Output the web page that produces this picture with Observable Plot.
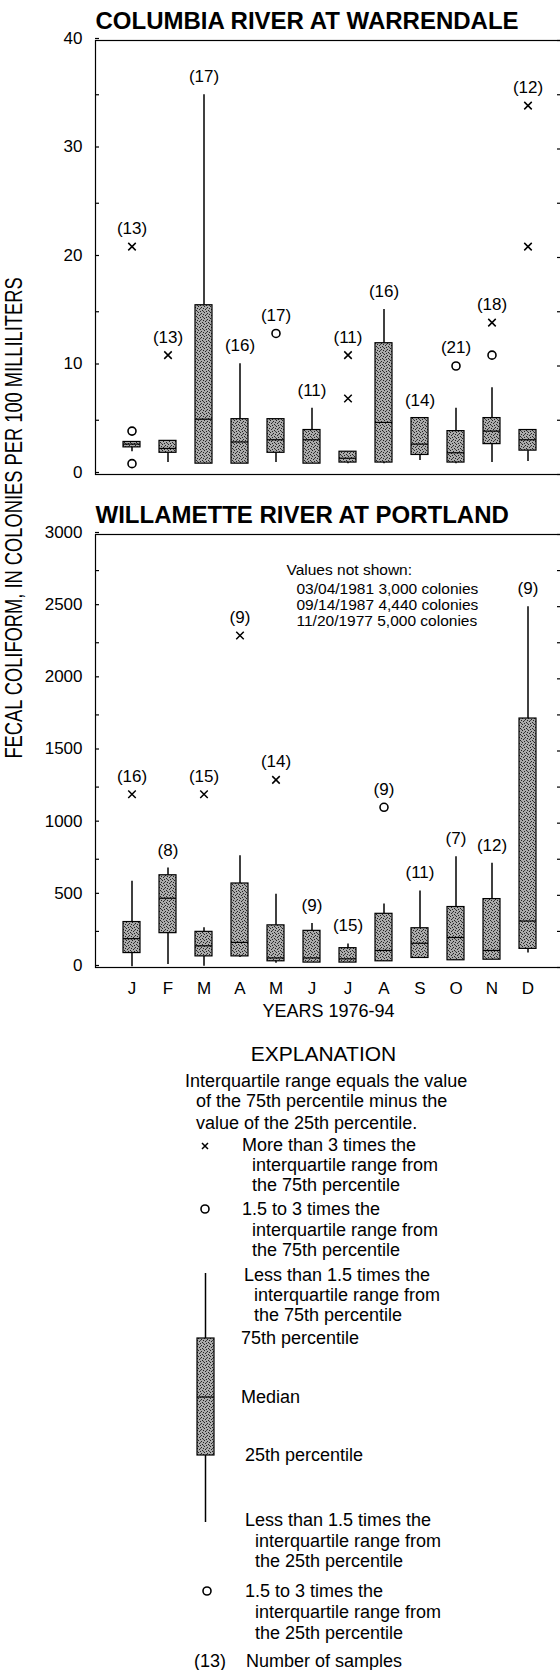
<!DOCTYPE html>
<html><head><meta charset="utf-8">
<script src="https://cdn.jsdelivr.net/npm/d3@7"></script>
<script src="https://cdn.jsdelivr.net/npm/@observablehq/plot@0.6"></script>
<style>
body{margin:0;background:#fff;}
#page{position:relative;width:560px;height:1670px;overflow:hidden;background:#fff;font-family:"Liberation Sans",Arial,sans-serif;color:#000;}
#page > svg{position:absolute;left:0;max-width:none !important;}
</style></head><body>
<div id="page">
<svg width="0" height="0" style="position:absolute;top:0;left:0"><defs>
<pattern id="stip" width="6" height="6" patternUnits="userSpaceOnUse">
<rect width="6" height="6" fill="#ababab"/>
<rect x="0" y="0" width="1" height="1" fill="#222"/>
<rect x="3" y="1" width="1" height="1" fill="#222"/>
<rect x="1" y="3" width="1" height="1" fill="#222"/>
<rect x="4" y="4" width="1" height="1" fill="#222"/>
<rect x="2" y="5" width="1" height="1" fill="#222"/>
<rect x="5" y="2" width="1" height="1" fill="#222"/>
<rect x="2" y="2" width="1" height="1" fill="#444"/>
<rect x="5" y="5" width="1" height="1" fill="#444"/>
</pattern></defs></svg>
</div>
<script>
const months = ["Jan","Feb","Mar","Apr","May","Jun","Jul","Aug","Sep","Oct","Nov","Dec"];
const monthLabels = ["J","F","M","A","M","J","J","A","S","O","N","D"];

// Columbia River at Warrendale
const colTitle = "COLUMBIA RIVER AT WARRENDALE";
const colLow  = [2.1, 1.1, 1.0, 1.0, 1.1, 1.0, 1.0, 1.0, 1.3, 1.0, 1.1, 1.2];
const colQ1   = [2.5, 2.0, 1.0, 1.0, 2.0, 1.0, 1.1, 1.1, 1.8, 1.1, 2.8, 2.2];
const colMed  = [2.8, 2.4, 5.1, 3.0, 3.2, 3.2, 1.5, 4.8, 2.8, 2.0, 4.0, 3.2];
const colQ3   = [3.0, 3.1, 15.6, 5.1, 5.1, 4.1, 2.1, 12.1, 5.2, 4.0, 5.2, 4.1];
const colHigh = [3.0, 3.1, 35.0, 10.2, 5.1, 6.1, 2.1, 15.2, 5.2, 6.1, 8.0, 4.1];
const colN    = [13, 13, 17, 16, 17, 11, 11, 16, 14, 21, 18, 12];
const colFar  = [[0, 21], [1, 11], [6, 11], [6, 7], [10, 14], [11, 34], [11, 21]];
const colNear = [[0, 4], [0, 1], [4, 13], [9, 10], [10, 11]];
const colTicks = [0, 10, 20, 30, 40];
const colMinor = [5, 15, 25, 35];

// Willamette River at Portland
const wilTitle = "WILLAMETTE RIVER AT PORTLAND";
const wilLow  = [5, 20, 9, 70, 30, 34, 34, 43, 66, 50, 54, 100];
const wilQ1   = [100, 238, 77, 77, 43, 34, 34, 43, 66, 50, 54, 129];
const wilMed  = [200, 480, 150, 174, 66, 66, 60, 118, 168, 208, 118, 322];
const wilQ3   = [315, 639, 247, 582, 292, 254, 134, 372, 272, 419, 474, 1725];
const wilHigh = [598, 689, 276, 775, 508, 304, 163, 440, 530, 768, 723, 2500];
const wilN    = [16, 8, 15, 9, 14, 9, 15, 9, 11, 7, 12, 9];
const wilFar  = [[0, 1200], [2, 1200], [3, 2300], [4, 1300]];
const wilNear = [[7, 1110]];
const wilTicks = [0, 500, 1000, 1500, 2000, 2500, 3000];
const wilMinor = [250, 750, 1250, 1750, 2250, 2750];
const notShownHead = "Values not shown:";
const notShownLines = ["03/04/1981 3,000 colonies", "09/14/1987 4,440 colonies", "11/20/1977 5,000 colonies"];

const xLabel = "YEARS 1976-94";
const yLabel = "FECAL COLIFORM, IN COLONIES PER 100 MILLILITERS";

const FONT = "Liberation Sans, Arial, Helvetica, sans-serif";
const page = document.getElementById("page");

function panel(o) {
  const far = o.far.map(([i, v]) => ({m: months[i], v}));
  const near = o.near.map(([i, v]) => ({m: months[i], v}));
  const rows = months.map((m, i) => {
    const pts = far.concat(near).filter(d => d.m === m).map(d => d.v);
    return {m, low: o.low[i], q1: o.q1[i], med: o.med[i], q3: o.q3[i], high: o.high[i], n: o.n[i],
            top: Math.max(o.high[i], o.q3[i], ...pts)};
  });
  const marks = [
    Plot.frame({stroke: "#000", strokeWidth: 1.2}),
    Plot.axisY(o.ticks, {anchor: "left", tickSize: -4, tickPadding: 17, fontSize: 17, dy: -2, strokeWidth: 1.2, tickFormat: d => String(d)}),
    Plot.axisY(o.minor, {anchor: "left", tickSize: -4, tickFormat: () => "", strokeWidth: 1.2}),
    Plot.axisY(o.ticks.concat(o.minor), {anchor: "right", tickSize: -5, tickFormat: () => "", strokeWidth: 1.2}),
    Plot.ruleX(rows, {x: "m", y1: "low", y2: "q1", stroke: "#000", strokeWidth: 1.5}),
    Plot.ruleX(rows, {x: "m", y1: "q3", y2: "high", stroke: "#000", strokeWidth: 1.5}),
    Plot.barY(rows, {x: "m", y1: "q1", y2: "q3", fill: "url(#stip)", stroke: "#000", strokeWidth: 1.2}),
    Plot.tickY(rows, {x: "m", y: "med", stroke: "#000", strokeWidth: 1.2}),
    Plot.dot(far, {x: "m", y: "v", symbol: "times", r: 3.5, stroke: "#000", strokeWidth: 1.5}),
    Plot.dot(near, {x: "m", y: "v", symbol: "circle", r: 4, stroke: "#000", fill: "#fff", strokeWidth: 1.6}),
    Plot.text(rows, {x: "m", y: "top", text: d => `(${d.n})`, dy: -18, fontSize: 17, fill: "#000"}),
    Plot.text([o.title], {frameAnchor: "top-left", textAnchor: "start", lineAnchor: "bottom", dy: -12, fontSize: 24, fontWeight: "bold", fill: "#000"})
  ];
  if (o.extra) marks.push(...o.extra);
  const svg = Plot.plot({
    width: 564, height: o.height,
    marginLeft: 95, marginRight: 3, marginTop: o.marginTop, marginBottom: o.marginBottom,
    style: {fontFamily: FONT, background: "transparent", color: "#000", overflow: "visible", maxWidth: "none"},
    x: {type: "band", domain: months, range: [112.95, 546.05], paddingInner: 0.53, paddingOuter: 0.265, align: 0.5, axis: null, label: null},
    y: {domain: o.domain, label: null, axis: null},
    marks
  });
  svg.style.maxWidth = "none";
  svg.setAttribute("width", 564);
  svg.setAttribute("height", o.height);
  return svg;
}

const top1 = panel({
  title: colTitle, low: colLow, q1: colQ1, med: colMed, q3: colQ3, high: colHigh, n: colN,
  far: colFar, near: colNear, ticks: colTicks, minor: colMinor, domain: [0, 40],
  height: 490, marginTop: 40, marginBottom: 16
});
top1.style.top = "0px";
page.appendChild(top1);

const bot = panel({
  title: wilTitle, low: wilLow, q1: wilQ1, med: wilMed, q3: wilQ3, high: wilHigh, n: wilN,
  far: wilFar, near: wilNear, ticks: wilTicks, minor: wilMinor, domain: [0, 3000],
  height: 545, marginTop: 44, marginBottom: 68,
  extra: [
    Plot.axisX(months, {anchor: "bottom", tickSize: 0, tickPadding: 14, fontSize: 17, tickFormat: d => monthLabels[months.indexOf(d)], label: null}),
    Plot.text([xLabel], {frameAnchor: "bottom", dy: 44, lineAnchor: "middle", fontSize: 18, fill: "#000"}),
    Plot.text([notShownHead], {frameAnchor: "top-left", textAnchor: "start", lineAnchor: "middle", dx: 191, dy: 36, fontSize: 15.5, fill: "#000"}),
    Plot.text([notShownLines.join("\n")], {frameAnchor: "top-left", textAnchor: "start", lineAnchor: "top", dx: 201, dy: 48, fontSize: 15.5, lineHeight: 1.03, fill: "#000"})
  ]
});
bot.style.top = "490px";
page.appendChild(bot);

// Overlay: y label and explanation
const ov = d3.select(page).append("svg")
  .attr("width", 560).attr("height", 1670)
  .style("top", "0px").style("font-family", FONT);

ov.append("text")
  .attr("transform", "translate(22,518) rotate(-90) scale(1,1.3)")
  .attr("text-anchor", "middle").attr("font-size", 18.3).attr("fill", "#000")
  .text(yLabel);

const legendTitle = "EXPLANATION";
const legendLines = [
  ["Interquartile range equals the value", 185, 1081],
  ["of the 75th percentile minus the", 196, 1101],
  ["value of the 25th percentile.", 196, 1123],
  ["More than 3 times the", 242, 1145],
  ["interquartile range from", 252, 1165],
  ["the 75th percentile", 252, 1185],
  ["1.5 to 3 times the", 242, 1209],
  ["interquartile range from", 252, 1230],
  ["the 75th percentile", 252, 1250],
  ["Less than 1.5 times the", 244, 1275],
  ["interquartile range from", 254, 1295],
  ["the 75th percentile", 254, 1315],
  ["75th percentile", 241, 1338],
  ["Median", 241, 1397],
  ["25th percentile", 245, 1455],
  ["Less than 1.5 times the", 245, 1520],
  ["interquartile range from", 255, 1541],
  ["the 25th percentile", 255, 1561],
  ["1.5 to 3 times the", 245, 1591],
  ["interquartile range from", 255, 1612],
  ["the 25th percentile", 255, 1633],
  ["(13)", 194, 1661],
  ["Number of samples", 246, 1661]
];
ov.append("text").attr("x", 323.5).attr("y", 1053).attr("text-anchor", "middle")
  .attr("dominant-baseline", "central").attr("font-size", 21).attr("fill", "#000").text(legendTitle);
ov.selectAll("text.lg").data(legendLines).join("text").attr("class", "lg")
  .attr("x", d => d[1]).attr("y", d => d[2]).attr("dominant-baseline", "central")
  .attr("font-size", 18).attr("fill", "#000").text(d => d[0]);

// legend glyphs
const g = ov.append("g").attr("stroke", "#000").attr("fill", "none");
g.append("path").attr("d", "M202,1143L208,1149M208,1143L202,1149").attr("stroke-width", 1.5);
g.append("circle").attr("cx", 205).attr("cy", 1209).attr("r", 4).attr("stroke-width", 1.6).attr("fill", "#fff");
g.append("circle").attr("cx", 207).attr("cy", 1591).attr("r", 4).attr("stroke-width", 1.6).attr("fill", "#fff");
g.append("line").attr("x1", 205.5).attr("x2", 205.5).attr("y1", 1273).attr("y2", 1338).attr("stroke-width", 1.5);
g.append("line").attr("x1", 205.5).attr("x2", 205.5).attr("y1", 1455).attr("y2", 1522).attr("stroke-width", 1.5);
g.append("rect").attr("x", 197).attr("y", 1338).attr("width", 17).attr("height", 117).attr("fill", "url(#stip)").attr("stroke-width", 1.2);
g.append("line").attr("x1", 197).attr("x2", 214).attr("y1", 1397).attr("y2", 1397).attr("stroke-width", 1.2);
</script>
</body></html>
